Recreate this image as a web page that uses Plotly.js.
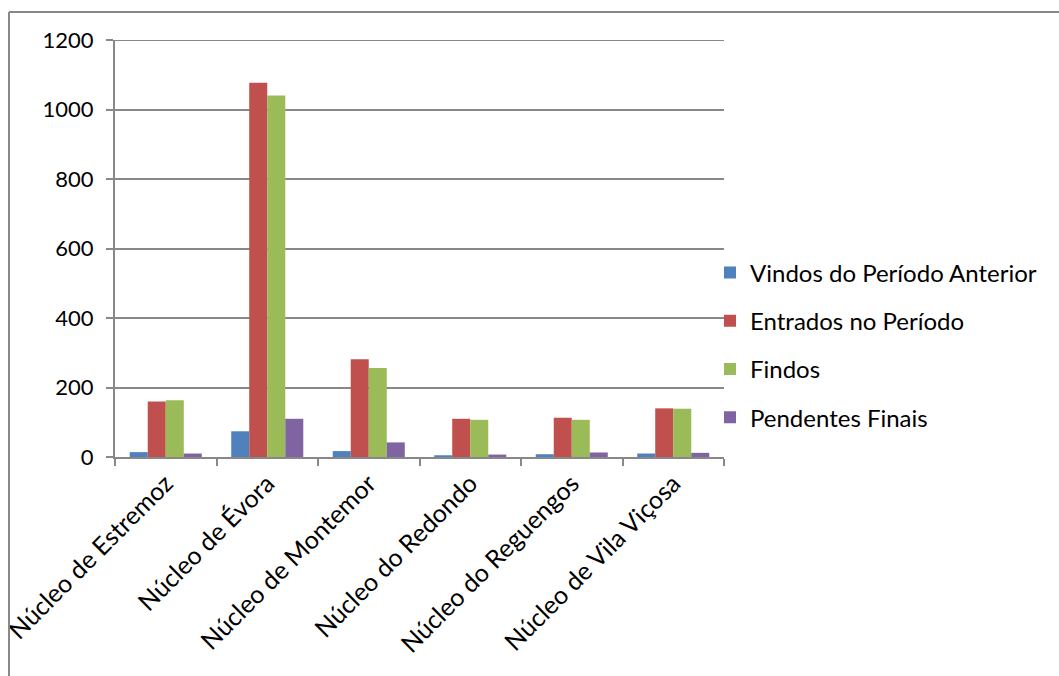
<!DOCTYPE html>
<html>
<head>
<meta charset="utf-8">
<script src="https://cdn.plot.ly/plotly-3.0.1.min.js"></script>
<style>
html,body{margin:0;padding:0;background:#fff;}
#chart{width:1059px;height:676px;}
</style>
</head>
<body>
<div id="chart"></div>
<script>
const categories = ["Núcleo de Estremoz","Núcleo de Évora","Núcleo de Montemor","Núcleo do Redondo","Núcleo do Reguengos","Núcleo de Vila Viçosa"];
const seriesNames = ["Vindos do Período Anterior","Entrados no Período","Findos","Pendentes Finais"];
const vindos = [14, 74, 17, 5, 8, 10];
const entrados = [160, 1077, 281, 110, 113, 140];
const findos = [163, 1040, 256, 107, 107, 139];
const pendentes = [10, 110, 42, 7, 13, 12];
const colors = ["#4F81BD","#C0504D","#9BBB59","#8064A2"];
const yTicks = [0, 200, 400, 600, 800, 1000, 1200];

const values = [vindos, entrados, findos, pendentes];
const traces = values.map((v, i) => ({
  type: "bar",
  name: seriesNames[i],
  x: categories,
  y: v,
  marker: {color: colors[i], line: {width: 0}},
  legendgroup: "g" + i
}));

const L = 115, R = 724, T = 40, B = 457, W = 1059, H = 676;
const px = x => (x - L) / (R - L);
const py = y => (B - y) / (B - T);
const yMax = yTicks[yTicks.length - 1];

const layout = {
  width: W, height: H,
  margin: {l: L, r: W - R, t: T, b: H - B, pad: 0},
  paper_bgcolor: "#fff", plot_bgcolor: "#fff",
  font: {family: "Lato, 'Open Sans', sans-serif", size: 22, color: "#000"},
  barmode: "group",
  bargap: 0.29,
  bargroupgap: 0,
  showlegend: true,
  legend: {
    x: px(710), xanchor: "left",
    y: py(345), yanchor: "middle",
    traceorder: "grouped",
    tracegroupgap: 14,
    font: {size: 24},
    itemwidth: 30,
    bgcolor: "rgba(0,0,0,0)"
  },
  xaxis: {
    type: "category",
    showline: true, linecolor: "#888888", linewidth: 2,
    ticks: "outside", ticklen: 7, tickcolor: "#888888", tickwidth: 2,
    tickson: "boundaries",
    tickangle: -45,
    tickfont: {size: 25},
    showgrid: false, zeroline: false,
    fixedrange: true
  },
  yaxis: {
    range: [0, yMax],
    tickvals: yTicks,
    ticktext: yTicks.map(String),
    showline: true, linecolor: "#888888", linewidth: 2,
    ticks: "outside", ticklen: 7, tickcolor: "#888888", tickwidth: 2,
    showgrid: true, gridcolor: "#888888", gridwidth: 2,
    zeroline: false,
    tickfont: {size: 22},
    ticklabelstandoff: 8,
    fixedrange: true
  },
  shapes: [
    {type: "line", xref: "paper", yref: "y", x0: 0, x1: 1, y0: yMax, y1: yMax, line: {color: "#888888", width: 2}, layer: "below"},
    {type: "line", xref: "paper", yref: "paper", x0: px(9), x1: px(9), y0: py(12), y1: py(680), line: {color: "#888888", width: 2}},
    {type: "line", xref: "paper", yref: "paper", x0: px(9), x1: px(1065), y0: py(12), y1: py(12), line: {color: "#888888", width: 2}}
  ]
};

Plotly.newPlot("chart", traces, layout, {displayModeBar: false, staticPlot: true});
</script>
</body>
</html>
